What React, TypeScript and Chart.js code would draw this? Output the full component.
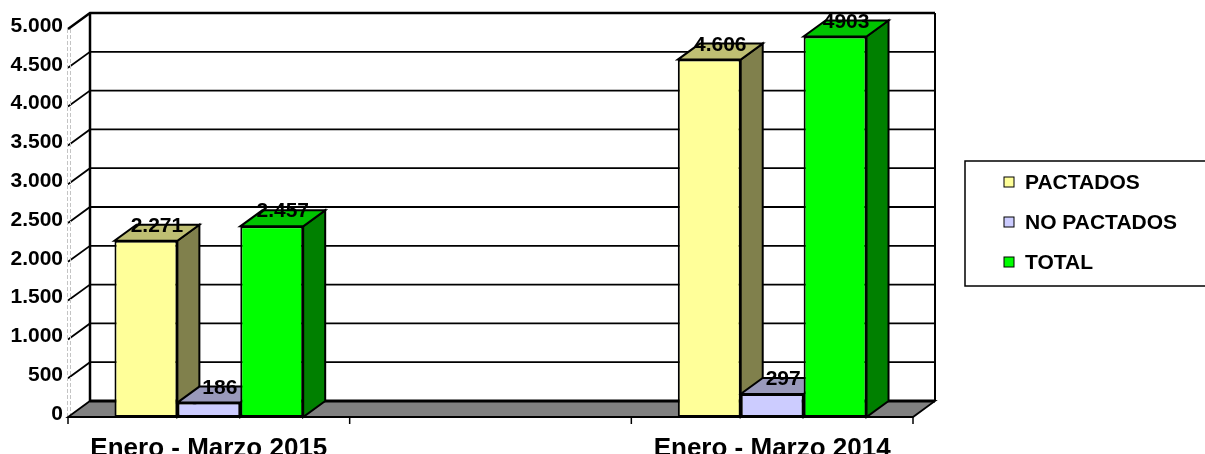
import React, { useEffect, useRef } from "react";
import { Chart, registerables } from "chart.js";

Chart.register(...registerables);

const categories = ["Enero - Marzo 2015", "", "Enero - Marzo 2014"];
const seriesNames = ["PACTADOS", "NO PACTADOS", "TOTAL"];
const pactados = [2271, null, 4606];
const noPactados = [186, null, 297];
const total = [2457, null, 4903];
const pactadosLabels = ["2.271", "", "4.606"];
const noPactadosLabels = ["186", "", "297"];
const totalLabels = ["2.457", "", "4903"];
const yMin = 0;
const yMax = 5000;
const yStep = 500;

const FRONT = ["#FFFF99", "#CCCCFF", "#00FF00"];
const TOPC = ["#BFBF73", "#9999BB", "#00C400"];
const SIDEC = ["#80804C", "#666699", "#008000"];
const DX = 22;
const DY = 16;
const FONT = "'Liberation Sans', Arial, sans-serif";

const fmt = (v: number) => String(v).replace(/\B(?=(\d{3})+(?!\d))/g, ".");

const threeD = {
  id: "threeD",
  beforeDatasetsDraw(chart: any) {
    const ctx = chart.ctx;
    const ca = chart.chartArea;
    const y = chart.scales.y;
    const x = chart.scales.x;
    const L = ca.left, R = ca.right, B = ca.bottom;
    ctx.save();
    ctx.fillStyle = "#ffffff";
    ctx.fillRect(L + DX, y.getPixelForValue(yMax) - DY, R - L, B - y.getPixelForValue(yMax));
    ctx.strokeStyle = "#000";
    ctx.lineWidth = 1.8;
    for (let v = yMin + yStep; v < yMax; v += yStep) {
      const py = y.getPixelForValue(v);
      ctx.beginPath();
      ctx.moveTo(L, py);
      ctx.lineTo(L + DX, py - DY);
      ctx.lineTo(R + DX, py - DY);
      ctx.stroke();
    }
    const topY = y.getPixelForValue(yMax);
    ctx.lineWidth = 2.5;
    ctx.beginPath();
    ctx.moveTo(L, topY);
    ctx.lineTo(L + DX, topY - DY);
    ctx.lineTo(R + DX, topY - DY);
    ctx.stroke();
    ctx.beginPath();
    ctx.moveTo(L + DX, topY - DY);
    ctx.lineTo(L + DX, B - DY);
    ctx.stroke();
    ctx.lineWidth = 2;
    ctx.beginPath();
    ctx.moveTo(R + DX, topY - DY);
    ctx.lineTo(R + DX, B - DY);
    ctx.stroke();
    ctx.strokeStyle = "#c4c4c4";
    ctx.lineWidth = 1;
    ctx.setLineDash([4, 2]);
    for (const off of [-0.5, 2.5]) {
      ctx.beginPath();
      ctx.moveTo(L + off, topY);
      ctx.lineTo(L + off, B);
      ctx.stroke();
    }
    ctx.setLineDash([]);
    ctx.fillStyle = "#808080";
    ctx.beginPath();
    ctx.moveTo(L, B);
    ctx.lineTo(R, B);
    ctx.lineTo(R + DX, B - DY);
    ctx.lineTo(L + DX, B - DY);
    ctx.closePath();
    ctx.fill();
    ctx.strokeStyle = "#000";
    ctx.lineWidth = 1.8;
    ctx.stroke();
    ctx.lineWidth = 3;
    ctx.beginPath();
    ctx.moveTo(L + DX, B - DY);
    ctx.lineTo(R + DX, B - DY);
    ctx.stroke();
    ctx.lineWidth = 2;
    ctx.beginPath();
    ctx.moveTo(L, B);
    ctx.lineTo(R, B);
    ctx.stroke();
    const n = categories.length;
    const step = (R - L) / n;
    ctx.lineWidth = 1.5;
    for (let i = 0; i <= n; i++) {
      const cx = i < n ? x.getPixelForValue(i) - step / 2 : x.getPixelForValue(n - 1) + step / 2;
      ctx.beginPath();
      ctx.moveTo(cx, B);
      ctx.lineTo(cx, B + 7);
      ctx.stroke();
    }
    const metas = chart.data.datasets.map((_: any, i: number) => chart.getDatasetMeta(i));
    for (let c = 0; c < n; c++) {
      metas.forEach((meta: any, di: number) => {
        const el = meta.data[c];
        const val = chart.data.datasets[di].data[c];
        if (!el || val == null) return;
        const { x: bx, y: by, base, width } = el.getProps(["x", "y", "base", "width"], true);
        const l = bx - width / 2, r = bx + width / 2;
        ctx.lineWidth = 2;
        ctx.strokeStyle = "#000";
        ctx.fillStyle = SIDEC[di];
        ctx.beginPath();
        ctx.moveTo(r, by);
        ctx.lineTo(r + DX, by - DY);
        ctx.lineTo(r + DX, base - DY);
        ctx.lineTo(r, base);
        ctx.closePath();
        ctx.fill();
        ctx.stroke();
        ctx.fillStyle = TOPC[di];
        ctx.beginPath();
        ctx.moveTo(l, by);
        ctx.lineTo(r, by);
        ctx.lineTo(r + DX, by - DY);
        ctx.lineTo(l + DX, by - DY);
        ctx.closePath();
        ctx.fill();
        ctx.stroke();
      });
    }
    ctx.restore();
  },
  afterDatasetsDraw(chart: any) {
    const ctx = chart.ctx;
    const labelSets = [pactadosLabels, noPactadosLabels, totalLabels];
    ctx.save();
    ctx.fillStyle = "#000";
    ctx.font = `bold 21px ${FONT}`;
    ctx.textAlign = "center";
    ctx.textBaseline = "alphabetic";
    chart.data.datasets.forEach((ds: any, di: number) => {
      const meta = chart.getDatasetMeta(di);
      meta.data.forEach((el: any, i: number) => {
        if (ds.data[i] == null) return;
        const { x: bx, y: by } = el.getProps(["x", "y"], true);
        ctx.fillText(labelSets[di][i], bx + DX / 2, by - 9);
      });
    });
    const lx = 965, ly = 161;
    ctx.strokeStyle = "#000";
    ctx.lineWidth = 1.5;
    ctx.strokeRect(lx, ly, 260, 125);
    ctx.font = `bold 21px ${FONT}`;
    ctx.textAlign = "left";
    ctx.textBaseline = "middle";
    seriesNames.forEach((name, i) => {
      const cy = ly + 21 + i * 40;
      ctx.fillStyle = FRONT[i];
      ctx.fillRect(1004, cy - 5, 10, 10);
      ctx.strokeStyle = "#000";
      ctx.lineWidth = 1;
      ctx.strokeRect(1004, cy - 5, 10, 10);
      ctx.fillStyle = "#000";
      ctx.fillText(name, 1025, cy + 1);
    });
    ctx.restore();
  },
};

export default function App() {
  const ref = useRef<HTMLCanvasElement | null>(null);
  useEffect(() => {
    if (!ref.current) return;
    const chart = new Chart(ref.current, {
      type: "bar",
      data: {
        labels: categories,
        datasets: [pactados, noPactados, total].map((d, i) => ({
          label: seriesNames[i],
          data: d,
          backgroundColor: FRONT[i],
          borderColor: "#000",
          borderWidth: 2,
          borderSkipped: false,
          categoryPercentage: 0.67,
          barPercentage: 1,
        })),
      },
      options: {
        animation: false,
        responsive: true,
        maintainAspectRatio: false,
        layout: { padding: { left: 0, right: 292, top: 29, bottom: 0 } },
        plugins: { legend: { display: false }, tooltip: { enabled: false } },
        scales: {
          x: {
            grid: { display: false, drawTicks: false },
            border: { display: false },
            ticks: {
              color: "#000",
              font: { family: FONT, size: 26, weight: "bold" },
              padding: 16,
              maxRotation: 0,
              autoSkip: false,
            },
            afterFit: (s: any) => {
              s.height = 37;
            },
          },
          y: {
            min: yMin,
            max: yMax,
            grid: { display: false, drawTicks: false },
            border: { display: false },
            ticks: {
              stepSize: yStep,
              color: "#000",
              font: { family: FONT, size: 21, weight: "bold" },
              padding: 5,
              labelOffset: -3,
              callback: (v: any) => fmt(Number(v)),
            },
            afterFit: (s: any) => {
              s.width = 68;
            },
          },
        },
      },
      plugins: [threeD],
    });
    return () => chart.destroy();
  }, []);
  return (
    <div style={{ position: "absolute", left: 0, top: 0, width: 1205, height: 454, background: "#fff" }}>
      <canvas ref={ref} />
    </div>
  );
}
